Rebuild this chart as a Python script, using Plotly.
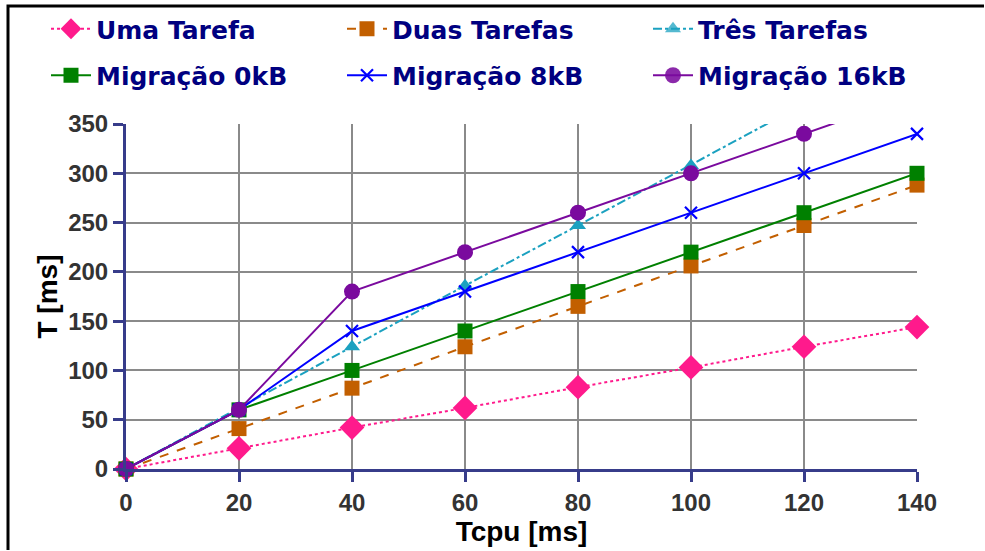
import plotly.graph_objects as go

# Execution time T as a function of CPU time Tcpu
tcpu = [0, 20, 40, 60, 80, 100, 120, 140]
uma_tarefa = [0, 21, 42, 62, 83, 103, 124, 144]
duas_tarefas = [0, 41, 82, 124, 165, 206, 247, 288]
tres_tarefas = [0, 62, 124, 186, 247, 308, 370, 432]
migracao_0kb = [0, 60, 100, 140, 180, 220, 260, 300]
migracao_8kb = [0, 60, 140, 180, 220, 260, 300, 340]
migracao_16kb = [0, 60, 180, 220, 260, 300, 340, 380]

x_ticks = [0, 20, 40, 60, 80, 100, 120, 140]
y_ticks = [0, 50, 100, 150, 200, 250, 300, 350]
Y_MAX = 350
X_MAX = 140

# name, values, colour, dash, marker symbol, marker size, marker outline, legend column
series = [
    ("Uma Tarefa", uma_tarefa, "#ff1a8c", "dot", "diamond", 19, None, "legend"),
    ("Duas Tarefas", duas_tarefas, "#c25f00", "dash", "square", 15, None, "legend2"),
    ("Três Tarefas", tres_tarefas, "#1ba1c0", "dashdot", "triangle-up", 14, None, "legend3"),
    ("Migração 0kB", migracao_0kb, "#008000", "solid", "square", 15, None, "legend"),
    ("Migração 8kB", migracao_8kb, "#0000ff", "solid", "x-thin", 12, 2.2, "legend2"),
    ("Migração 16kB", migracao_16kb, "#7a0a9e", "solid", "circle", 16, None, "legend3"),
]

fig = go.Figure()
for name, ys, color, dash, symbol, size, lw, leg in series:
    # points above the visible range keep their line segment but hide the marker
    opac = [1 if v <= Y_MAX else 0 for v in ys]
    marker = dict(symbol=symbol, size=size, color=color, opacity=opac)
    if lw:
        marker["line"] = dict(width=lw, color=color)
    fig.add_trace(go.Scatter(
        x=tcpu, y=ys, name=name, mode="lines+markers",
        line=dict(color=color, width=2, dash=dash),
        marker=marker, cliponaxis=False,
        legend=leg, legendgroup=name,
    ))

axis_color = "#373c8a"
tick_font = dict(family="Liberation Sans, Arial, sans-serif", size=24,
                 color="#333333", weight="bold")
title_font = dict(family="Liberation Sans, Arial, sans-serif", size=28,
                  color="#000000", weight="bold")
legend_font = dict(family="DejaVu Sans, sans-serif", size=25,
                   color="#000080", weight="bold")

PLOT_L, PLOT_R, PLOT_T, PLOT_B = 126, 917, 124, 469
PW, PH = PLOT_R - PLOT_L, PLOT_B - PLOT_T


def legend_column(x_px):
    return dict(
        orientation="v", xref="paper", yref="container",
        x=(x_px - PLOT_L) / PW, y=1 - 6 / 551,
        xanchor="left", yanchor="top",
        font=legend_font, itemwidth=40, tracegroupgap=11,
        bgcolor="rgba(0,0,0,0)", borderwidth=0,
    )


fig.update_layout(
    width=985, height=551,
    margin=dict(l=PLOT_L, r=985 - PLOT_R, t=PLOT_T, b=551 - PLOT_B),
    paper_bgcolor="white", plot_bgcolor="white",
    showlegend=True,
    legend=legend_column(46),
    legend2=legend_column(342),
    legend3=legend_column(648),
    xaxis=dict(
        range=[0, X_MAX], tickvals=x_ticks, ticktext=[str(v) for v in x_ticks],
        showgrid=True, gridcolor="#8a8a8a", gridwidth=2,
        showline=True, linecolor=axis_color, linewidth=3,
        ticks="outside", ticklen=10, tickwidth=3, tickcolor=axis_color,
        tickfont=tick_font, zeroline=False, automargin=False,
        title=dict(text="Tcpu [ms]", font=title_font, standoff=6),
    ),
    yaxis=dict(
        range=[0, Y_MAX], tickvals=y_ticks, ticktext=[str(v) for v in y_ticks],
        showgrid=True, gridcolor="#8a8a8a", gridwidth=2,
        showline=True, linecolor=axis_color, linewidth=3,
        ticks="outside", ticklen=10, tickwidth=3, tickcolor=axis_color,
        tickfont=tick_font, zeroline=False, automargin=False,
        title=dict(text="T [ms]", font=title_font, standoff=3),
    ),
)

# figure frame along the top and left edges as one open path
fx0 = (8 - PLOT_L) / PW
fx1 = (984 - PLOT_L) / PW
fy_top = (PLOT_B - 6) / PH
fy_bottom = (PLOT_B - 550) / PH
fig.add_shape(type="path", xref="paper", yref="paper",
              path=f"M {fx0},{fy_bottom} L {fx0},{fy_top} L {fx1},{fy_top}",
              line=dict(color="black", width=3), layer="above")

fig.write_html("out.html")
